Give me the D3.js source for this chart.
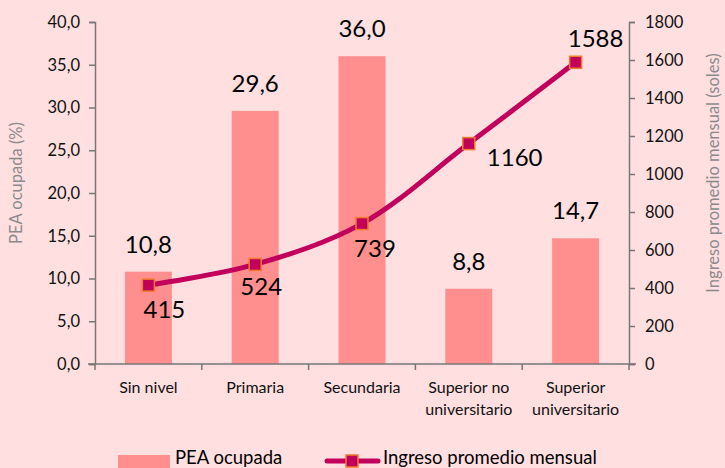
<!DOCTYPE html>
<html>
<head>
<meta charset="utf-8">
<script src="https://cdn.jsdelivr.net/npm/d3@7"></script>
<style>
  body { margin: 0; background: #ffdfe0; }
  svg { font-family: "Lato", "Open Sans", sans-serif; display: block; }
</style>
</head>
<body>
<script>
// niveles educativos, PEA ocupada (%) e ingreso promedio (soles)
var categorias = [["Sin nivel"], ["Primaria"], ["Secundaria"], ["Superior no", "universitario"], ["Superior", "universitario"]];
var pea = [10.8, 29.6, 36.0, 8.8, 14.7];
var ingreso = [415, 524, 739, 1160, 1588];
var ticksPea = [0, 5, 10, 15, 20, 25, 30, 35, 40];
var ticksIngreso = [0, 200, 400, 600, 800, 1000, 1200, 1400, 1600, 1800];

var W = 725, H = 468;
var margin = {top: 22, left: 95, right: 96, bottom: 104};
var width = W - margin.left - margin.right,
    height = H - margin.top - margin.bottom;

var barColor = "#ff8f8f", lineColor = "#c2005c", markStroke = "#f07c2b", axisColor = "#777";

var svg = d3.select("body").append("svg")
    .attr("width", W).attr("height", H);
svg.append("rect").attr("width", W).attr("height", H).attr("fill", "#ffdfe0");

var g = svg.append("g")
    .attr("transform", "translate(" + margin.left + "," + margin.top + ")");

var idx = d3.range(categorias.length);
var x = d3.scaleBand().domain(idx).range([0, width]).paddingInner(0.56).paddingOuter(0.28);
var xb = d3.scaleBand().domain(idx).range([0, width]);
var y = d3.scaleLinear().domain([0, 40]).range([height, 0]);
var y2 = d3.scaleLinear().domain([0, 1800]).range([height, 0]);

var fmt = function(v){ return d3.format(".1f")(v).replace(".", ","); };

// bars
g.selectAll(".bar").data(pea).enter().append("rect")
    .attr("x", function(d, i){ return x(i); })
    .attr("width", x.bandwidth())
    .attr("y", function(d){ return y(d); })
    .attr("height", function(d){ return height - y(d); })
    .attr("fill", barColor);

g.selectAll(".blab").data(pea).enter().append("text")
    .attr("x", function(d, i){ return xb(i) + xb.bandwidth() / 2; })
    .attr("y", function(d){ return y(d) - 19; })
    .attr("text-anchor", "middle")
    .style("font-size", "24px")
    .text(fmt);

// axes
var axL = g.append("g")
    .call(d3.axisLeft(y).tickValues(ticksPea).tickFormat(fmt).tickSizeOuter(0).tickSize(6));
var axR = g.append("g").attr("transform", "translate(" + width + ",0)")
    .call(d3.axisRight(y2).tickValues(ticksIngreso).tickFormat(d3.format("d")).tickSizeOuter(0).tickSize(6));
var axB = g.append("g").attr("transform", "translate(0," + height + ")")
    .call(d3.axisBottom(xb).tickValues([]).tickSizeOuter(0));
[axL, axR, axB].forEach(function(a){
  a.selectAll("path, line").attr("stroke", axisColor).attr("stroke-width", 1.5);
  a.selectAll("text").attr("fill", "#111").style("font-size", "16.5px").style("font-family", "Lato");
});
axL.selectAll("text").attr("dx", -6);
axR.selectAll("text").attr("dx", 7);
axB.select(".domain").attr("d", "M-7,0H" + (width + 7));

// category separators
g.selectAll(".sep").data(d3.range(categorias.length + 1)).enter().append("line")
    .attr("x1", function(i){ return i * xb.step(); })
    .attr("x2", function(i){ return i * xb.step(); })
    .attr("y1", height).attr("y2", height + 6)
    .attr("stroke", axisColor).attr("stroke-width", 1.5);

// category labels
var cl = g.selectAll(".cat").data(categorias).enter().append("text")
    .attr("text-anchor", "middle")
    .attr("transform", function(d, i){ return "translate(" + (xb(i) + xb.bandwidth() / 2) + "," + (height + 29) + ")"; })
    .style("font-size", "16px").attr("fill", "#111");
cl.selectAll("tspan").data(function(d){ return d; }).enter().append("tspan")
    .attr("x", 0).attr("dy", function(d, i){ return i ? 22 : 0; })
    .text(function(d){ return d; });

// axis titles
g.append("text")
    .attr("transform", "translate(-73," + (height / 2 - 10) + ") rotate(-90)")
    .attr("text-anchor", "middle").attr("fill", "#8a8a8a").style("font-size", "16.5px")
    .text("PEA ocupada (%)");
g.append("text")
    .attr("transform", "translate(" + (width + 90) + "," + (height / 2 - 20) + ") rotate(-90)")
    .attr("text-anchor", "middle").attr("fill", "#8a8a8a").style("font-size", "16.5px")
    .text("Ingreso promedio mensual (soles)");

// line
var cx = function(i){ return xb(i) + xb.bandwidth() / 2; };
var line = d3.line()
    .x(function(d, i){ return cx(i); })
    .y(function(d){ return y2(d); })
    .curve(d3.curveCatmullRom);
g.append("path").datum(ingreso)
    .attr("d", line).attr("fill", "none")
    .attr("stroke", lineColor).attr("stroke-width", 5);

g.selectAll(".mk").data(ingreso).enter().append("rect")
    .attr("x", function(d, i){ return cx(i) - 6; })
    .attr("y", function(d){ return y2(d) - 6; })
    .attr("width", 12).attr("height", 12)
    .attr("fill", lineColor).attr("stroke", markStroke).attr("stroke-width", 1.5);

// line labels: debajo, a la derecha o encima
var lpos = [[16, 33], [6, 31], [13, 33], [18, 22], [20, -15]];
g.selectAll(".llab").data(ingreso).enter().append("text")
    .attr("x", function(d, i){ return cx(i) + lpos[i][0]; })
    .attr("y", function(d, i){ return y2(d) + lpos[i][1]; })
    .attr("text-anchor", function(d, i){ return i === 3 ? "start" : "middle"; })
    .style("font-size", "24px")
    .text(function(d){ return d; });

// legend
var lg = svg.append("g").attr("transform", "translate(0,464)");
lg.append("rect").attr("x", 118).attr("y", -9).attr("width", 52).attr("height", 13).attr("fill", barColor);
lg.append("text").attr("x", 175).attr("y", 0).style("font-size", "18.5px").text("PEA ocupada");
lg.append("line").attr("x1", 327).attr("x2", 378).attr("y1", -3).attr("y2", -3)
    .attr("stroke", lineColor).attr("stroke-width", 5).attr("stroke-linecap", "round");
lg.append("rect").attr("x", 346).attr("y", -9).attr("width", 12).attr("height", 12)
    .attr("fill", lineColor).attr("stroke", markStroke).attr("stroke-width", 1.5);
lg.append("text").attr("x", 383).attr("y", 0).style("font-size", "18.5px").text("Ingreso promedio mensual");
</script>
</body>
</html>
